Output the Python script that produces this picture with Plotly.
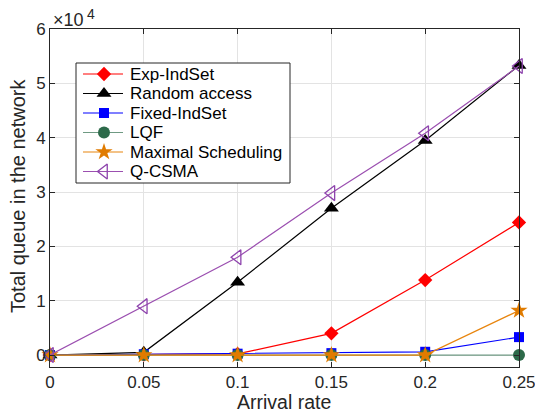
import plotly.graph_objects as go

arrival_rate = [0, 0.05, 0.1, 0.15, 0.2, 0.25]
exp_indset = [0, 100, 200, 4000, 13800, 24400]
random_access = [0, 500, 13400, 27000, 39500, 53300]
fixed_indset = [0, 150, 250, 350, 600, 3300]
lqf = [0, 0, 0, 0, 0, 0]
maximal = [0, 0, 0, 0, 0, 8200]
q_csma = [0, 9000, 18000, 29800, 40800, 53200]

series_names = ["Exp-IndSet", "Random access", "Fixed-IndSet", "LQF",
                "Maximal Scheduling", "Q-CSMA"]

x_ticks = [0, 0.05, 0.1, 0.15, 0.2, 0.25]
x_ticktext = ["0", "0.05", "0.1", "0.15", "0.2", "0.25"]
y_ticks = [0, 10000, 20000, 30000, 40000, 50000, 60000]
y_ticktext = ["0", "1", "2", "3", "4", "5", "6"]

values = [exp_indset, random_access, fixed_indset, lqf, maximal, q_csma]
styles = [
    ("#ff0000", "#ff0000", "diamond", 11),
    ("#000000", "#000000", "triangle-up", 13),
    ("#0000ff", "#0000ff", "square", 10),
    ("#6f9a83", "#2d6a4a", "circle", 12),
    ("#e8850e", "#e07b00", "star", 13),
    ("#9b4fb0", "#8e44ad", "triangle-left-open", 13),
]

W, H = 535, 415
L, R, T, B = 50, 519, 29, 367  # plot area in page pixels


def px(X):
    return (X - L) / (R - L)


def py(Y):
    return (B - Y) / (B - T)


fig = go.Figure()
for name, ys, (lc, mc, sym, sz) in zip(series_names, values, styles):
    fig.add_trace(go.Scatter(
        x=arrival_rate, y=ys, name=name, mode="lines+markers",
        line=dict(color=lc, width=1.2),
        marker=dict(symbol=sym, size=sz, color=mc,
                    line=dict(color=mc, width=1.3 if "open" in sym else 0)),
        cliponaxis=False, showlegend=False,
    ))

# Manual legend drawn on an overlay axis in pixel units
leg_left, leg_right, leg_top, leg_bottom = 76, 290, 63, 183
row_y = [74, 93.5, 113, 132.5, 152, 171.5]
fig.add_trace(go.Scatter(
    x=[leg_left, leg_right, leg_right, leg_left, leg_left],
    y=[leg_top, leg_top, leg_bottom, leg_bottom, leg_top],
    mode="lines", fill="toself", fillcolor="white",
    line=dict(color="#262626", width=1), xaxis="x2", yaxis="y2",
    showlegend=False, hoverinfo="skip"))
for name, (lc, mc, sym, sz), yy in zip(series_names, styles, row_y):
    fig.add_trace(go.Scatter(
        x=[83, 123], y=[yy, yy], mode="lines",
        xaxis="x2", yaxis="y2", line=dict(color=lc, width=1.2),
        showlegend=False, hoverinfo="skip", cliponaxis=False))
    fig.add_annotation(xref="paper", yref="paper", x=px(128), y=py(yy),
                       text=name, xanchor="left", yanchor="middle",
                       showarrow=False, font=dict(size=17, color="#000000"))
fig.add_trace(go.Scatter(
    x=[104] * 6, y=row_y, mode="markers", xaxis="x2", yaxis="y2",
    marker=dict(symbol=[s[2] for s in styles], size=[s[3] for s in styles],
                color=[s[1] for s in styles], opacity=1,
                line=dict(color=[s[1] for s in styles],
                          width=[1.3 if "open" in s[2] else 0 for s in styles])),
    showlegend=False, hoverinfo="skip", cliponaxis=False))

font = "Liberation Sans, Arial, sans-serif"
axis_common = dict(showgrid=True, gridcolor="#e3e3e3", gridwidth=1,
                   zeroline=False, showline=True, linecolor="#262626",
                   linewidth=1, mirror="ticks", ticks="inside", ticklen=5,
                   tickcolor="#262626", automargin=False,
                   ticklabeloverflow="allow",
                   tickfont=dict(size=17, color="#262626"))
fig.update_layout(
    width=W, height=H,
    margin=dict(l=L, r=W - R, t=T, b=H - B),
    paper_bgcolor="white", plot_bgcolor="white",
    font=dict(family=font, size=17, color="#262626"),
    showlegend=False,
    xaxis=dict(range=[0, 0.25], tickvals=x_ticks, ticktext=x_ticktext,
               **axis_common),
    yaxis=dict(range=[-2200, 60000], tickvals=y_ticks, ticktext=y_ticktext,
               **axis_common),
    xaxis2=dict(range=[L, R], overlaying="x", visible=False, fixedrange=True),
    yaxis2=dict(range=[B, T], overlaying="y", visible=False, fixedrange=True),
)
fig.add_annotation(xref="paper", yref="paper", x=px(284), y=py(402),
                   text="Arrival rate", showarrow=False, xanchor="center",
                   yanchor="middle", font=dict(size=19.5, color="#262626"))
fig.add_annotation(xref="paper", yref="paper", x=px(18), y=py(196),
                   text="Total queue in the network", textangle=-90,
                   showarrow=False, xanchor="center", yanchor="middle",
                   font=dict(size=20, color="#262626"))
fig.add_annotation(xref="paper", yref="paper", x=px(51), y=py(20),
                   xanchor="left", yanchor="middle", showarrow=False,
                   text="×10", font=dict(size=18, color="#262626"))
fig.add_annotation(xref="paper", yref="paper", x=px(85), y=py(4),
                   xanchor="left", yanchor="top", showarrow=False,
                   text="4", font=dict(size=14, color="#262626"))

fig.write_html("out.html",
               config={"displayModeBar": False},
               post_script="document.body.style.margin='0px';"
                           "document.body.style.overflow='hidden';")
